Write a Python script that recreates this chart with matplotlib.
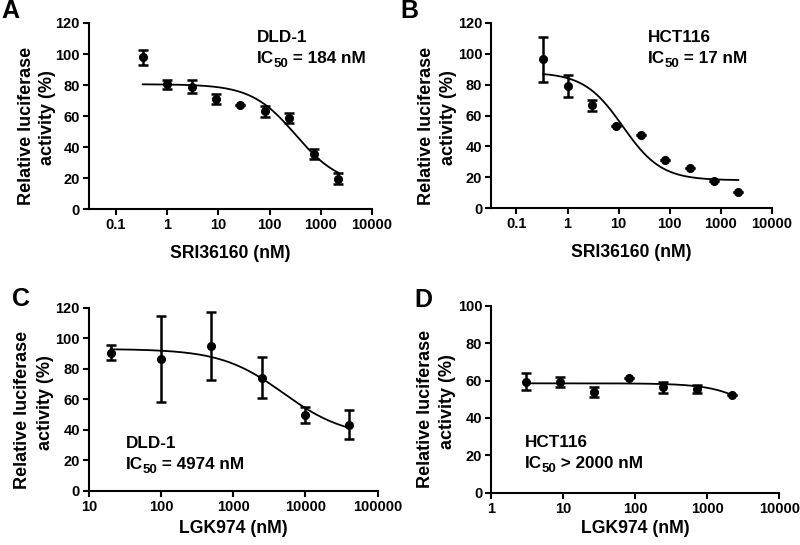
import numpy as np
import matplotlib
matplotlib.use("Agg")
import matplotlib.pyplot as plt

plt.rcParams['font.family'] = ['Liberation Sans', 'DejaVu Sans']
plt.rcParams['font.weight'] = 'bold'

# ---- data ----
conc_sri = [0.333, 1, 3, 9, 27, 81, 243, 729, 2187]
dld1_sri_mean = [98.0, 80.5, 79.0, 71.0, 67.0, 63.0, 58.8, 35.5, 19.5]
dld1_sri_err = [4.8, 3.0, 4.2, 3.0, 0.0, 3.5, 3.0, 3.0, 3.5]
hct_sri_mean = [96.5, 79.0, 66.5, 53.3, 47.5, 31.0, 25.7, 17.3, 10.2]
hct_sri_err = [14.5, 7.2, 3.7, 0.0, 0.0, 0.0, 0.0, 0.0, 0.0]

conc_lgk_dld = [20, 100, 500, 2500, 10000, 40000]
dld1_lgk_mean = [90.5, 86.5, 94.8, 74.2, 49.7, 43.5]
dld1_lgk_err = [4.8, 28.3, 22.3, 13.4, 5.5, 9.5]

conc_lgk_hct = [3, 9, 27, 81, 243, 729, 2187]
hct_lgk_mean = [59.4, 59.3, 54.0, 61.5, 56.4, 55.4, 52.0]
hct_lgk_err = [4.5, 2.5, 2.7, 0.0, 3.0, 2.3, 0.0]

# fitted 4-parameter logistic curves (top, bottom, IC50, hill)
fit_A = (80.5, 15.0, 325.0, 1.0)
fit_B = (88.0, 18.0, 12.0, 1.15)
fit_C = (93.0, 35.0, 4974.0, 1.0)
fit_D = (58.5, 0.0, 11300.0, 1.3)

xt_A = [0.1, 1, 10, 100, 1000, 10000]
xtl_A = ['0.1', '1', '10', '100', '1000', '10000']
xt_C = [10, 100, 1000, 10000, 100000]
xtl_C = ['10', '100', '1000', '10000', '100000']
xt_D = [1, 10, 100, 1000, 10000]
xtl_D = ['1', '10', '100', '1000', '10000']

cells = ['DLD-1', 'HCT116', 'DLD-1', 'HCT116']
ic_texts = [' = 184 nM', ' = 17 nM', ' = 4974 nM', ' > 2000 nM']

panels = [
    dict(rect=[0.111, 0.6165, 0.354, 0.3413], x=conc_sri, y=dld1_sri_mean, e=dld1_sri_err,
         fit=fit_A, xlim=(0.0295, 10000), ylim=(0, 120), yt=np.arange(0, 121, 20),
         xt=xt_A, xtl=xtl_A, xlabel='SRI36160 (nM)', xlpad=9, letter='A',
         tpos=(256.5, 41.7), ylab=((27, 126), (48, 118)), lpos=(1, -1)),
    dict(rect=[0.614, 0.6183, 0.351, 0.3395], x=conc_sri, y=hct_sri_mean, e=hct_sri_err,
         fit=fit_B, xlim=(0.032, 10000), ylim=(0, 120), yt=np.arange(0, 121, 20),
         xt=xt_A, xtl=xtl_A, xlabel='SRI36160 (nM)', xlpad=9, letter='B',
         tpos=(647.5, 41.7), ylab=((427, 126), (448, 118)), lpos=(400, -1)),
    dict(rect=[0.111, 0.0991, 0.361, 0.3363], x=conc_lgk_dld, y=dld1_lgk_mean, e=dld1_lgk_err,
         fit=fit_C, xlim=(10, 100000), ylim=(0, 120), yt=np.arange(0, 121, 20),
         xt=xt_C, xtl=xtl_C, xlabel='LGK974 (nM)', xlpad=4, letter='C',
         tpos=(125.5, 448), ylab=((23, 410), (45, 402.5)), lpos=(12, 287)),
    dict(rect=[0.614, 0.096, 0.36, 0.343], x=conc_lgk_hct, y=hct_lgk_mean, e=hct_lgk_err,
         fit=fit_D, xlim=(1, 10000), ylim=(0, 100), yt=np.arange(0, 101, 20),
         xt=xt_D, xtl=xtl_D, xlabel='LGK974 (nM)', xlpad=3, letter='D',
         tpos=(524.5, 446.7), ylab=((425, 408.5), (447, 401.5)), lpos=(414, 288)),
]

W, H = 800, 545
fig = plt.figure(figsize=(8, 5.45), dpi=100)
renderer = fig.canvas.get_renderer()

MAIN = 12.3
SUB = 9.5

for i, p in enumerate(panels):
    ax = fig.add_axes(p['rect'])
    x = np.array(p['x'], dtype=float)
    top, bot, ic, hill = p['fit']
    xs = np.logspace(np.log10(x.min()), np.log10(x.max()), 300)
    ys = bot + (top - bot) / (1 + (xs / ic) ** hill)
    ax.plot(xs, ys, color='black', lw=1.3, zorder=2)
    ax.errorbar(x, p['y'], yerr=p['e'], fmt='o', color='black', ms=5.5,
                elinewidth=1.8, capsize=3.6, capthick=1.8, zorder=3)
    ax.set_xscale('log')
    ax.set_xlim(*p['xlim'])
    ax.set_ylim(*p['ylim'])
    ax.set_xticks(p['xt'])
    ax.set_xticklabels(p['xtl'])
    ax.xaxis.set_minor_locator(matplotlib.ticker.NullLocator())
    ax.set_yticks(p['yt'])
    for s in ['top', 'right']:
        ax.spines[s].set_visible(False)
    for s in ['left', 'bottom']:
        ax.spines[s].set_linewidth(1.5)
    ax.tick_params(axis='both', direction='out', length=4, width=1.5,
                   labelsize=10.5, pad=2.5)
    for lab in ax.get_xticklabels() + ax.get_yticklabels():
        lab.set_fontweight('bold')
    ax.set_xlabel(p['xlabel'], fontsize=12.7, fontweight='bold', labelpad=p['xlpad'])
    ax.patch.set_alpha(0)

    # y-axis title (two rotated lines)
    for txt, (lx, ly) in zip(['Relative luciferase', 'activity (%)'], p['ylab']):
        fig.text(lx / W, 1 - ly / H, txt, fontsize=13, fontweight='bold',
                 rotation=90, ha='center', va='center')

    # annotation: cell line + IC50 with subscript
    tx, ty = p['tpos']
    fig.text(tx / W, 1 - ty / H, cells[i], fontsize=MAIN, fontweight='bold',
             ha='left', va='baseline')
    by = ty + 21
    t_ic = fig.text(tx / W, 1 - by / H, 'IC', fontsize=MAIN, fontweight='bold',
                    ha='left', va='baseline')
    w1 = t_ic.get_window_extent(renderer).width
    t_sub = fig.text((tx + w1) / W, 1 - (by + 4) / H, '50', fontsize=SUB,
                     fontweight='bold', ha='left', va='baseline')
    w2 = t_sub.get_window_extent(renderer).width
    fig.text((tx + w1 + w2) / W, 1 - by / H, ic_texts[i], fontsize=MAIN,
             fontweight='bold', ha='left', va='baseline')

    lx, ly = p['lpos']
    fig.text(lx / W, 1 - ly / H, p['letter'], fontsize=18, fontweight='bold',
             ha='left', va='top')

fig.savefig('out.png', dpi=100)
